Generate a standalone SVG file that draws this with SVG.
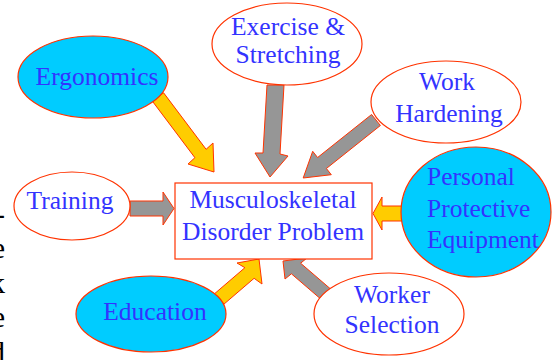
<svg xmlns="http://www.w3.org/2000/svg" width="553" height="360" viewBox="0 0 553 360">
<style>
text{font-family:'Liberation Serif',serif}
.lbl{font-size:25.5px;fill:#3333FF;text-anchor:middle}
.lft{text-anchor:start}
.edge{font-size:30px;fill:#000000;text-anchor:end}
.wht{fill:#FFFFFF;stroke:#FF3300;stroke-width:1.2}
.cyn{fill:#00CCFF;stroke:#FF3300;stroke-width:1.2}
.ya{fill:#FFCC00;stroke:#FF3300;stroke-width:1}
.ga{fill:#969696;stroke:#FF3300;stroke-width:1}
</style>
<rect width="553" height="360" fill="#FFFFFF"/>
<g id="edge-text" font-family="Liberation Serif, serif">
<text class="edge" x="5" y="224">-</text>
<text class="edge" x="5" y="258">e</text>
<text class="edge" x="5" y="293">k</text>
<text class="edge" x="5" y="327">e</text>
<text class="edge" x="5" y="362">d</text>
</g>
<g id="connectors">
<polygon class="ya" points="152.4,101.2 194.9,157.7 188,164 214,172 213,143 206.1,149.3 163.6,92.8"/>
<polygon class="ga" points="267,85 263,153 255,153 270,177 288,156 280,154 284,85"/>
<polygon class="ga" points="371.6,114.5 317.6,157.5 312.7,151.3 303.2,178 331.3,174.7 326.4,168.5 380.4,125.5"/>
<polygon class="ga" points="130,201 163,201 163,192 174,208.5 163,225 163,216 130,216"/>
<polygon class="ya" points="403,206 382,206 382,197 373,213.5 382,230 382,221 403,221"/>
<polygon class="ya" points="213.4,294.7 244.9,267.7 237,263 259,259 262,284 254.1,278.3 222.6,305.3"/>
<polygon class="ga" points="323.4,301.3 291.4,273.8 285,279 283,261 307,258 300.6,263.2 332.6,290.7"/>
</g>
<g font-family="Liberation Serif, serif">
<g id="ergonomics">
<ellipse class="cyn" cx="93" cy="77" rx="75" ry="41"/>
<text class="lbl" x="97" y="85">Ergonomics</text>
</g>
<g id="exercise">
<ellipse class="wht" cx="287" cy="44" rx="75" ry="41"/>
<text class="lbl" x="288" y="35">Exercise &amp;</text>
<text class="lbl" x="288" y="63">Stretching</text>
</g>
<g id="work-hardening">
<ellipse class="wht" cx="446" cy="102" rx="75" ry="41"/>
<text class="lbl" x="447" y="90">Work</text>
<text class="lbl" x="449" y="122">Hardening</text>
</g>
<g id="training">
<ellipse class="wht" cx="72" cy="206" rx="58" ry="34"/>
<text class="lbl" x="70" y="209">Training</text>
</g>
<g id="problem">
<rect class="wht" x="175" y="183" width="197" height="76"/>
<text class="lbl" x="273" y="208">Musculoskeletal</text>
<text class="lbl" x="273" y="240">Disorder Problem</text>
</g>
<g id="ppe">
<ellipse class="cyn" cx="476" cy="212" rx="75" ry="65"/>
<text class="lbl lft" x="427" y="185">Personal</text>
<text class="lbl lft" x="427" y="217">Protective</text>
<text class="lbl lft" x="427" y="248">Equipment</text>
</g>
<g id="education">
<ellipse class="cyn" cx="151" cy="314" rx="75" ry="38"/>
<text class="lbl" x="155" y="320">Education</text>
</g>
<g id="worker-selection">
<ellipse class="wht" cx="389" cy="314" rx="75" ry="41"/>
<text class="lbl" x="392" y="303">Worker</text>
<text class="lbl" x="392" y="333">Selection</text>
</g>
</g>
</svg>
